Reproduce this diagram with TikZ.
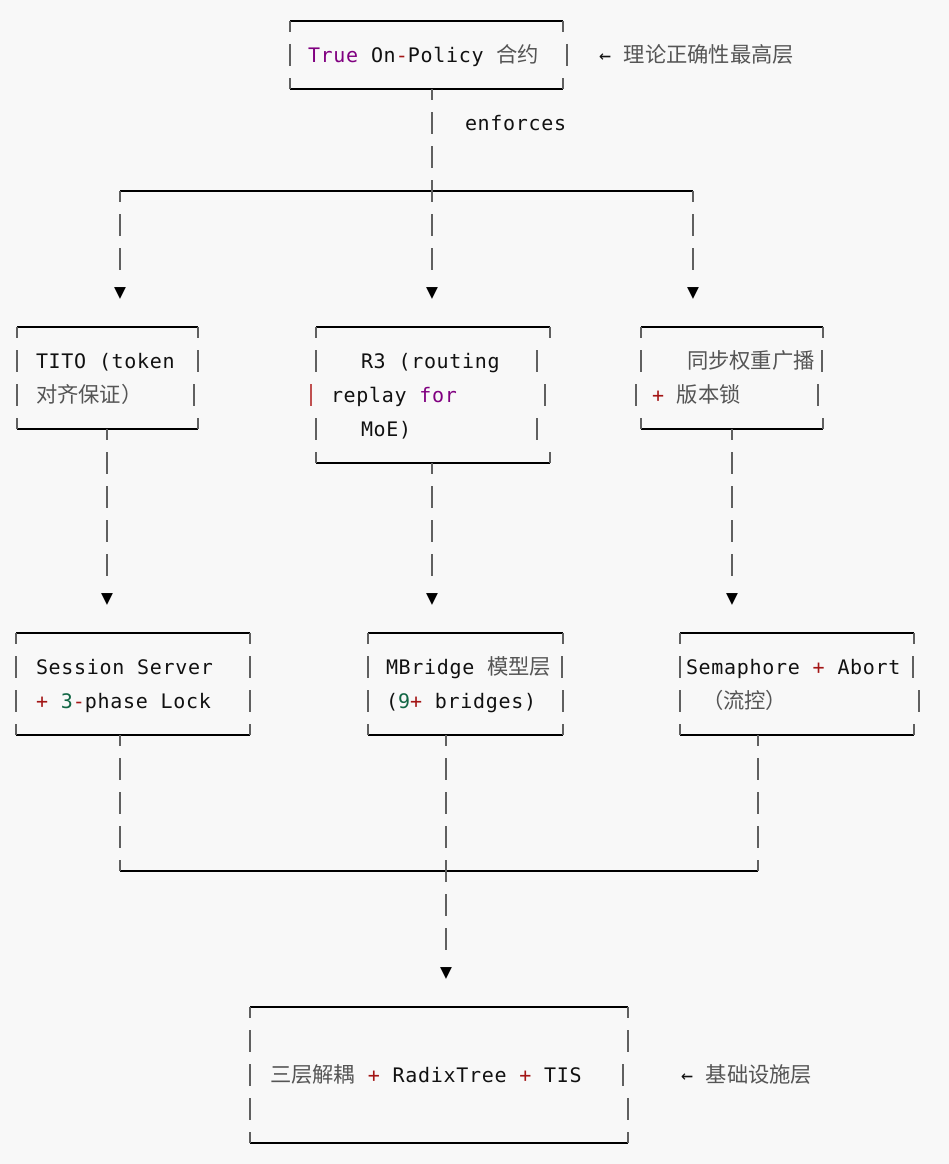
\documentclass[tikz,border=0pt]{standalone}
\usepackage{fontspec}
\setmonofont[LetterSpace=3.5]{DejaVu Sans Mono}
\newfontfamily\cjkf{Noto Sans CJK SC}
\newfontfamily\symf{DejaVu Sans}
\definecolor{bg}{HTML}{F8F8F8}
\definecolor{kwc}{HTML}{800080}
\definecolor{opc}{HTML}{A31515}
\definecolor{numc}{HTML}{116644}
\definecolor{cjkc}{HTML}{555555}
\definecolor{txtc}{HTML}{111111}
\definecolor{barc}{HTML}{606060}
\definecolor{redbar}{HTML}{C05050}
\newcommand\CJ[1]{{\cjkf\fontsize{21.3}{24}\selectfont\color{cjkc}#1}}
\newcommand\KW[1]{\textcolor{kwc}{#1}}
\newcommand\OP[1]{\textcolor{opc}{#1}}
\newcommand\NU[1]{\textcolor{numc}{#1}}
\tikzset{
  boxn/.style={draw=none, inner sep=0pt, outer sep=0pt, rectangle},
  hl/.style={draw=black, line width=2.7pt},
  vb/.style={draw=barc, line width=2.1pt},
  conn/.style={draw=barc, line width=2.1pt, dash pattern=on 22pt off 12pt, dash phase=11pt},
  txt/.style={anchor=base west, inner sep=0pt, outer sep=0pt, text=txtc,
    font=\ttfamily\fontsize{20}{22}\selectfont},
  arr/.style={inner sep=0pt, outer sep=0pt, minimum height=24pt, minimum width=14pt,
    font=\symf\fontsize{15.5}{16}\selectfont, text=black},
}
\newcommand\frameit[1]{%
  \draw[hl] (#1.north west) -- (#1.north east);
  \draw[hl] (#1.south west) -- (#1.south east);
  \draw[vb] (#1.north west) -- ++(0,-11);
  \draw[vb] (#1.north east) -- ++(0,-11);
  \draw[vb] (#1.south west) -- ++(0,11);
  \draw[vb] (#1.south east) -- ++(0,11);}
\newcommand\sbar[3][barc]{\draw[vb,draw=#1] (#2,{-(#3)+11}) -- (#2,{-(#3)-11});}
\begin{document}
\begin{tikzpicture}[x=1pt,y=1pt]
\fill[bg] (0,0) rectangle (949,-1164);
\useasboundingbox (0,0) rectangle (949,-1164);

% ---- boxes ----
\node[boxn, minimum width=273pt, minimum height=68pt] (top) at (426.5,-55) {};
\node[boxn, minimum width=181pt, minimum height=102pt] (tito) at (107.5,-378) {};
\node[boxn, minimum width=234pt, minimum height=136pt] (rthree) at (433,-395) {};
\node[boxn, minimum width=182pt, minimum height=102pt] (sync) at (732,-378) {};
\node[boxn, minimum width=234pt, minimum height=102pt] (sess) at (133,-684) {};
\node[boxn, minimum width=195pt, minimum height=102pt] (mbr) at (465.5,-684) {};
\node[boxn, minimum width=234pt, minimum height=102pt] (sema) at (797,-684) {};
\node[boxn, minimum width=378pt, minimum height=136pt] (base) at (439,-1075) {};

% ---- arrow heads ----
\node[arr] (aa) at (120,-293) {▼};
\node[arr] (ab) at (432,-293) {▼};
\node[arr] (ac) at (693,-293) {▼};
\node[arr] (ba) at (107,-599) {▼};
\node[arr] (bb) at (432,-599) {▼};
\node[arr] (bc) at (732,-599) {▼};
\node[arr] (ca) at (446,-973) {▼};

% ---- split / merge coordinates ----
\coordinate (sl) at (120,-191);
\coordinate (sr) at (693,-191);
\coordinate (ml) at (120,-871);
\coordinate (mr) at (758,-871);

% ---- horizontal rails ----
\draw[hl] (sl) -- (sr);
\draw[hl] (ml) -- (mr);

% ---- box frames ----
\frameit{top}
\sbar{290}{55}\sbar{567}{55}
\frameit{tito}
\sbar{17}{361}\sbar{198}{361}\sbar{17}{395}\sbar{194}{395}
\frameit{rthree}
\sbar{316}{361}\sbar{537}{361}\sbar[redbar]{311}{395}\sbar{545}{395}\sbar{316}{429}\sbar{537}{429}
\frameit{sync}
\sbar{641}{361}\sbar{822}{361}\sbar{636}{395}\sbar{818}{395}
\frameit{sess}
\sbar{16}{667}\sbar{250}{667}\sbar{16}{701}\sbar{250}{701}
\frameit{mbr}
\sbar{368}{667}\sbar{562}{667}\sbar{368}{701}\sbar{563}{701}
\frameit{sema}
\sbar{680}{667}\sbar{913}{667}\sbar{680}{701}\sbar{919}{701}
\frameit{base}
\sbar{250}{1041}\sbar{628}{1041}\sbar{250}{1075}\sbar{623}{1075}\sbar{250}{1109}\sbar{628}{1109}

% ---- connectors ----
\draw[conn] (top.south -| ab) -- (ab.north);
\draw[conn] (sl) -- (aa.north);
\draw[conn] (sr) -- (ac.north);
\draw[conn] (tito.south -| ba) -- (ba.north);
\draw[conn] (rthree.south -| bb) -- (bb.north);
\draw[conn] (sync.south -| bc) -- (bc.north);
\draw[conn] (sess.south -| ml) -- (ml);
\draw[conn] (sema.south -| mr) -- (mr);
\draw[conn] (mbr.south -| ca) -- (ca.north);

% ---- texts ----
\node[txt] (t0) at (308,-62.5) {\KW{True} On\OP{-}Policy \CJ{合约}};
\node[txt] (n0) at (599,-62.5) {← \CJ{理论正确性最高层}};
\node[txt] (enf) at (465,-130.5) {enforces};

\node[txt] (t1a) at (36,-368.5) {TITO (token};
\node[txt] (t1b) at (36,-402.5) {\CJ{对齐保证）}};

\node[txt] (t2a) at (361,-368.5) {R3 (routing};
\node[txt] (t2b) at (331,-402.5) {replay \KW{for}};
\node[txt] (t2c) at (361,-436.5) {MoE)};

\node[txt] (t3a) at (687,-368.5) {\CJ{同步权重广播}};
\node[txt] (t3b) at (652,-402.5) {\OP{+} \CJ{版本锁}};

\node[txt] (t4a) at (36,-674.5) {Session Server};
\node[txt] (t4b) at (36,-708.5) {\OP{+} \NU{3}\OP{-}phase Lock};

\node[txt] (t5a) at (386,-674.5) {MBridge \CJ{模型层}};
\node[txt] (t5b) at (386,-708.5) {(\NU{9}\OP{+} bridges)};

\node[txt] (t6a) at (686,-674.5) {Semaphore \OP{+} Abort};
\node[txt] (t6b) at (702,-708.5) {\CJ{（流控）}};

\node[txt] (t7) at (270,-1082.5) {\CJ{三层解耦} \OP{+} RadixTree \OP{+} TIS};
\node[txt] (n7) at (681,-1082.5) {← \CJ{基础设施层}};
\end{tikzpicture}
\end{document}
